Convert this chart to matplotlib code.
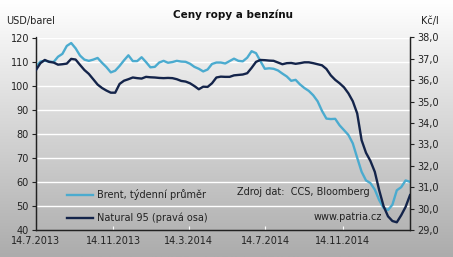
import numpy as np
import pandas as pd
import matplotlib
matplotlib.use("Agg")
import matplotlib.pyplot as plt
import matplotlib.dates as mdates

# weekly data, 14.7.2013 - 1.3.2015
dates = pd.date_range("2013-07-14", periods=86, freq="7D")

brent = [107.9, 110.0, 110.3, 110.0, 109.8, 112.0, 113.2, 116.5, 117.7, 115.5,
         112.5, 110.8, 110.3, 110.8, 111.5, 109.5, 107.7, 105.5, 106.2, 108.2,
         110.5, 112.6, 110.2, 110.2, 111.8, 109.8, 107.6, 107.8, 109.6, 110.3,
         109.5, 109.8, 110.3, 110.0, 109.9, 109.1, 107.8, 107.0, 105.9, 106.7,
         109.0, 109.6, 109.6, 109.2, 110.2, 111.2, 110.3, 110.1, 111.6, 114.3,
         113.5, 110.2, 107.0, 107.2, 107.0, 106.3, 105.0, 103.8, 102.0, 102.4,
         100.5, 99.0, 97.8, 96.0, 93.5, 89.5, 86.3, 86.1, 86.2, 83.5,
         81.5, 79.5, 76.0, 70.0, 64.2, 60.6, 59.5, 56.8, 52.4, 49.2,
         48.3, 50.5, 56.5, 57.8, 60.6, 60.0]

natural95 = [36.48, 36.80, 36.95, 36.86, 36.83, 36.73, 36.75, 36.78, 37.00, 36.97,
             36.72, 36.48, 36.30, 36.05, 35.80, 35.64, 35.52, 35.42, 35.42, 35.83,
             35.98, 36.05, 36.13, 36.10, 36.08, 36.16, 36.14, 36.13, 36.11, 36.10,
             36.11, 36.10, 36.05, 35.97, 35.94, 35.86, 35.73, 35.58, 35.70, 35.69,
             35.86, 36.13, 36.17, 36.16, 36.16, 36.23, 36.25, 36.27, 36.33, 36.58,
             36.86, 36.95, 36.94, 36.92, 36.91, 36.83, 36.75, 36.80, 36.81, 36.77,
             36.80, 36.84, 36.84, 36.80, 36.75, 36.70, 36.53, 36.23, 36.02, 35.86,
             35.67, 35.39, 35.02, 34.45, 33.20, 32.61, 32.23, 31.72, 30.86, 30.11,
             29.64, 29.42, 29.36, 29.69, 30.08, 30.63]

tick_dates = ["2013-07-14", "2013-11-14", "2014-03-14", "2014-07-14", "2014-11-14"]
tick_labels = ["14.7.2013", "14.11.2013", "14.3.2014", "14.7.2014", "14.11.2014"]

BRENT_COLOR = "#4babcf"
NAT_COLOR = "#14244a"

fig = plt.figure(figsize=(4.53, 2.57), dpi=100)

# gradient background (white at top -> grey at bottom)
bg = fig.add_axes([0, 0, 1, 1], zorder=-1)
grad = np.linspace(1.0, 0.0, 256).reshape(-1, 1)
bg.imshow(grad, aspect="auto", cmap=matplotlib.colors.LinearSegmentedColormap.from_list(
    "bg", ["#acacac", "#ffffff"]), extent=[0, 1, 0, 1])
bg.axis("off")

ax = fig.add_axes([36 / 453, 27 / 257, 374 / 453, 192.5 / 257])
ax.patch.set_alpha(0)
ax2 = ax.twinx()

for v in range(50, 121, 10):
    ax.axhline(v, color="white", lw=1.0, zorder=0)

ax.plot(dates, brent, color=BRENT_COLOR, lw=1.7, zorder=3, label="Brent, týdenní průměr")
ax2.plot(dates, natural95, color=NAT_COLOR, lw=1.7, zorder=3, label="Natural 95 (pravá osa)")

ax.set_ylim(40, 120)
ax2.set_ylim(29, 38)
ax.set_xlim(pd.Timestamp("2013-07-14"), pd.Timestamp("2015-03-01"))
ax.set_yticks(range(40, 121, 10))
ax2.set_yticks(np.arange(29, 38.1, 1))
ax2.set_yticklabels([f"{v:.1f}".replace(".", ",") for v in np.arange(29, 38.1, 1)])
ax.set_xticks(pd.to_datetime(tick_dates))
ax.set_xticklabels(tick_labels)

for a in (ax, ax2):
    a.spines["top"].set_visible(False)
    for s in a.spines.values():
        s.set_linewidth(0.9)
        s.set_color("#222222")
ax.tick_params(axis="y", labelsize=7, length=3, width=0.8, pad=2, colors="#222222")
ax2.tick_params(axis="y", labelsize=7, length=3, width=0.8, pad=2, colors="#222222")
ax.tick_params(axis="x", labelsize=7, length=3, width=0.8, direction="in", pad=4,
               color="white", labelcolor="#222222")

fig.text(233 / 453, 1 - 15 / 257, "Ceny ropy a benzínu", ha="center", va="center",
         fontsize=7.5, fontweight="bold", color="#111111")
fig.text(6 / 453, 1 - 21 / 257, "USD/barel", ha="left", va="center", fontsize=7, color="#222222")
fig.text(439 / 453, 1 - 21 / 257, "Kč/l", ha="right", va="center", fontsize=7, color="#222222")

# legend drawn by hand in figure coords
fig.add_artist(plt.Line2D([67 / 453, 93 / 453], [1 - 195 / 257] * 2, color=BRENT_COLOR, lw=1.7))
fig.add_artist(plt.Line2D([67 / 453, 93 / 453], [1 - 218 / 257] * 2, color=NAT_COLOR, lw=1.7))
fig.text(97 / 453, 1 - 195 / 257, "Brent, týdenní průměr", ha="left", va="center",
         fontsize=7, color="#222222")
fig.text(97 / 453, 1 - 218 / 257, "Natural 95 (pravá osa)", ha="left", va="center",
         fontsize=7, color="#222222")

fig.text(237 / 453, 1 - 192 / 257, "Zdroj dat:  CCS, Bloomberg", ha="left", va="center",
         fontsize=7, color="#222222")
fig.text(382 / 453, 1 - 217 / 257, "www.patria.cz", ha="right", va="center",
         fontsize=7, color="#222222")

plt.savefig("out.png", dpi=100)
plt.close()
